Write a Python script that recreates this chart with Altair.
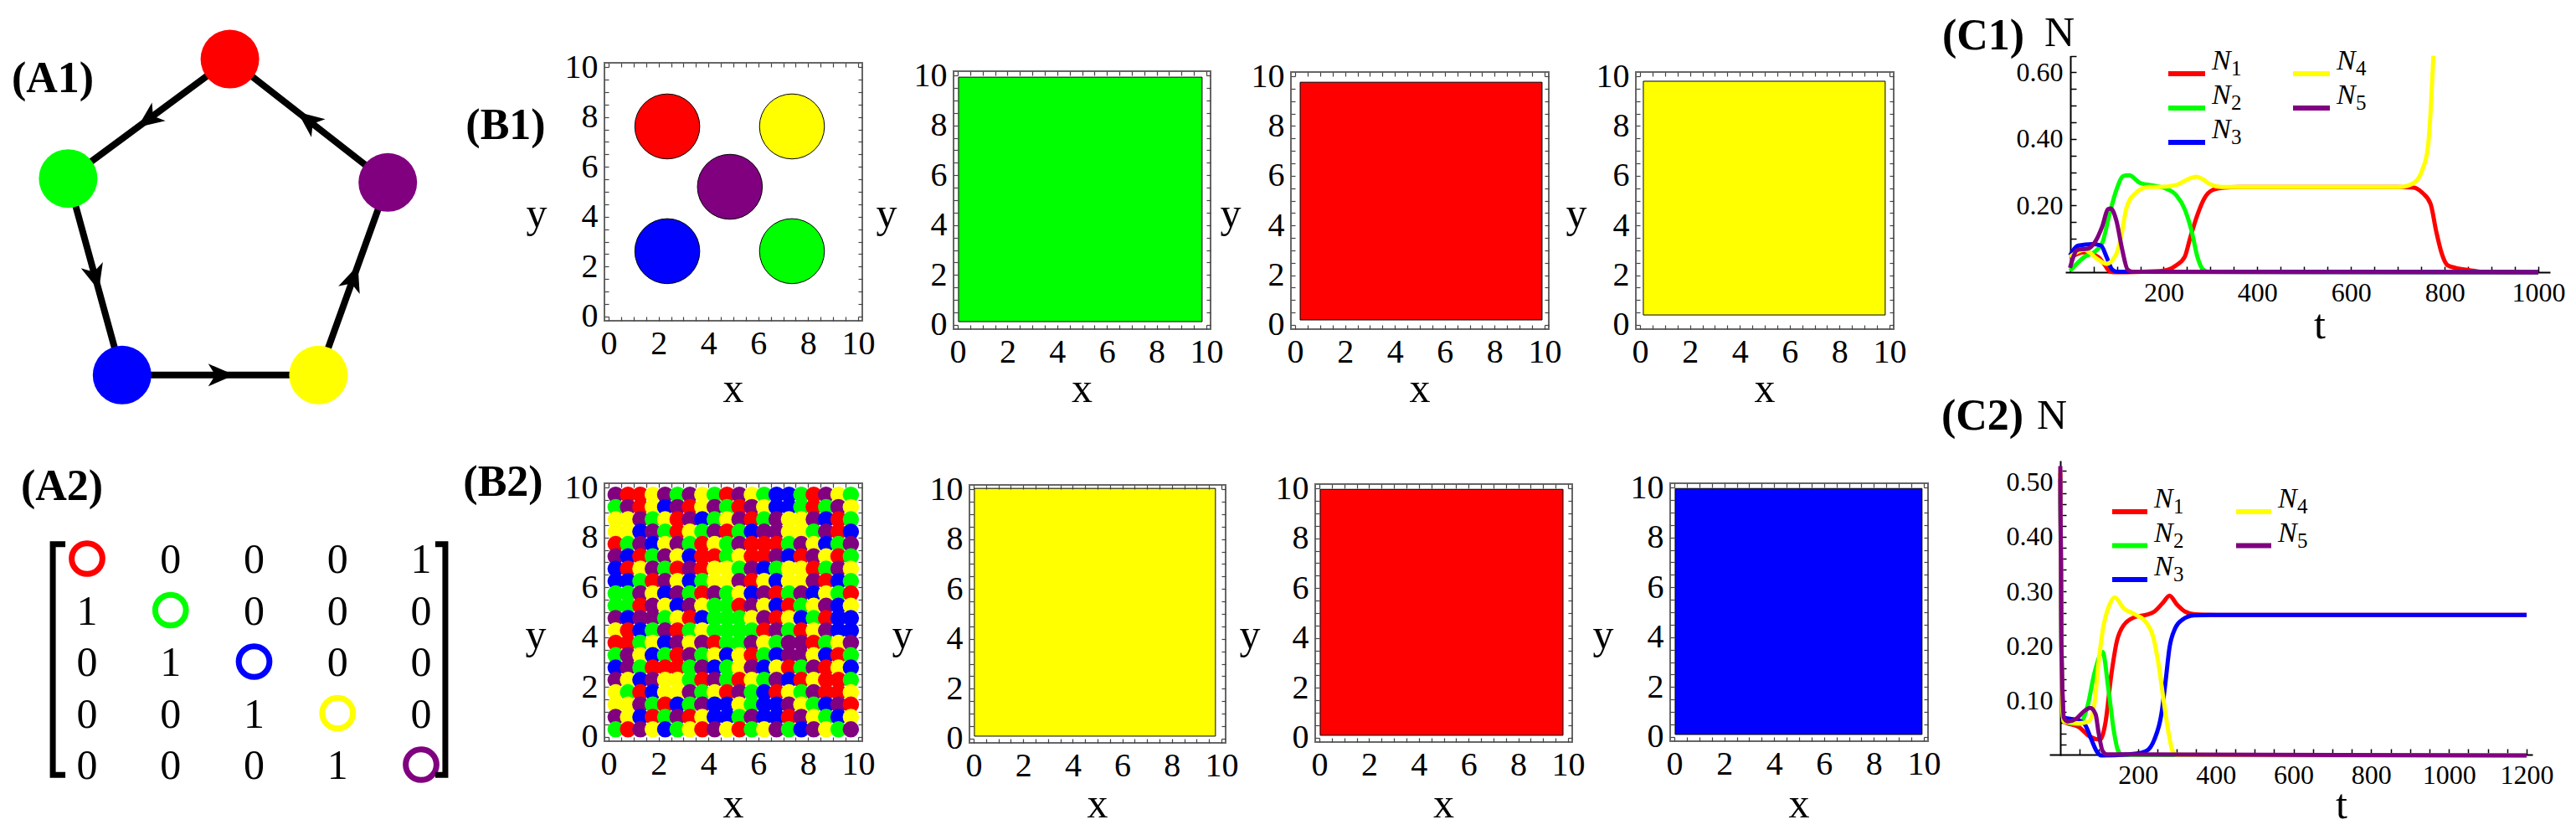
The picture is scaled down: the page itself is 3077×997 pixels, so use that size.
import math
import altair as alt
import pandas as pd

W, H, M = 3061, 981, 8          # plot size and page margin
SERIF = "'Liberation Serif', 'Times New Roman', 'DejaVu Serif', serif"

# ------------------------------------------------------------------ data
SPECIES = ["N", "N", "N", "N", "N"]
SUBS = ["1", "2", "3", "4", "5"]
COLORS = ["#ff0000", "#00ff00", "#0000ff", "#ffff00", "#800080"]

# A1: network nodes (arbitrary units) and directed edges
node_x = [5.1, 0.9, 2.3, 7.4, 9.2]
node_y = [8.9, 5.8, 0.7, 0.7, 5.7]
edge_src = [0, 1, 2, 3, 4]
edge_dst = [1, 2, 3, 4, 0]

# A2: adjacency matrix ("o" = coloured diagonal ring)
matrix_rows = ["o0001", "1o000", "01o00", "001o0", "0001o"]

# B1 initial condition: five circular patches
patch_x = [2.35, 7.35, 4.86, 2.35, 7.35]
patch_y = [7.62, 7.62, 5.20, 2.62, 2.62]
patch_species = [0, 3, 4, 2, 1]

# final states (species index) and their filled extents x0, x1, y0, y1
b1_final_species = [1, 0, 3]
b2_final_species = [3, 0, 2]
b1_final_extent = [[0.03, 9.83, 0.13, 9.93], [0.2, 9.9, 0.2, 9.76], [0.13, 9.83, 0.4, 9.8]]
b2_final_extent = [[0.03, 9.76, 0.1, 10.03], [0.03, 9.8, 0.1, 9.96], [0.03, 9.93, 0.1, 9.96]]

# B2 initial condition: coarse reading of the random pattern (top row first)
pattern_extent = [0.03, 9.96, 0.06, 9.96]
pattern_rows = [
    "PRRYPGPYGRPYGBBGRPYG",
    "GPRYBPRYPGRPYBBGRGPY",
    "YYPGYRPBGYPRGPYYPBRG",
    "YYBPGRYGPRGBPPYYGPRB",
    "RGPBYPGRYGPRRRGPYBGP",
    "PBRGPYBRRGYRRPBRPYRG",
    "BRYPGRPRYYGPBGYYRGPY",
    "BBGRPYBGYYPRYBYYPRBG",
    "GGPYBPGRPGYBPRGPBYGR",
    "GGRPYBPYGGRPYBRGYPBY",
    "PBPPGYRBGGGYPRYBGRBB",
    "YRBGPRGYGGGGRPGRYPBB",
    "RRGYBPYPRGGPYGPPRGYP",
    "GPYBGRPGYBYRGBPPYBRG",
    "BPGRRRGPBGYPBYRGPRYB",
    "PYBPYYGRPGRYGPBRYRRG",
    "YGRBYYPGYRPGBRYGPRRY",
    "YYPGRBGPBBYGBBPYGBPR",
    "PYBRGPRYBBGPBBRPYGBY",
    "GRPYBGYRPYRGYPGBPYGP",
]
LETTER = {"R": "#ff0000", "G": "#00ff00", "B": "#0000ff", "Y": "#ffff00", "P": "#800080"}

# C1 time series (t, N)
C1_N1 = [(0, 0.045), (30, 0.06), (60, 0.046), (75, 0.02), (85, 0.002), (100, 0), (190, 0.003), (210, 0.008),
         (227, 0.021), (245, 0.046), (257, 0.105), (272, 0.172), (287, 0.222), (305, 0.247), (329, 0.254),
         (360, 0.256), (700, 0.256), (734, 0.254), (752, 0.239), (770, 0.205), (782, 0.122), (794, 0.055),
         (806, 0.021), (823, 0.013), (853, 0.006), (880, 0.001), (1000, 0)]
C1_N2 = [(0, 0.004), (30, 0.045), (54, 0.063), (69, 0.088), (84, 0.172), (99, 0.247), (114, 0.289), (126, 0.291),
         (150, 0.268), (179, 0.26), (203, 0.252), (227, 0.231), (245, 0.189), (260, 0.122), (272, 0.046),
         (284, 0.008), (295, 0.001), (1000, 0)]
C1_N3 = [(0, 0.05), (18, 0.08), (48, 0.084), (66, 0.08), (78, 0.046), (90, 0.008), (100, 0.001), (1000, 0)]
C1_N4 = [(0, 0.046), (30, 0.067), (60, 0.038), (78, 0.025), (99, 0.055), (111, 0.12), (120, 0.19), (138, 0.235),
         (168, 0.256), (191, 0.256), (227, 0.262), (250, 0.278), (269, 0.287), (285, 0.278), (299, 0.264),
         (323, 0.256), (704, 0.256), (734, 0.268), (752, 0.306), (764, 0.373), (770, 0.482), (776, 0.65)]
C1_N5 = [(0, 0.013), (16, 0.067), (39, 0.071), (54, 0.092), (69, 0.138), (81, 0.189), (87, 0.191), (99, 0.155),
         (111, 0.071), (123, 0.008), (135, 0.001), (1000, 0)]

# C2 time series (t, N)
C2_N1 = [(0, 0.516), (3, 0.2), (6, 0.08), (9, 0.062), (48, 0.052), (77, 0.034), (102, 0.029), (116, 0.059),
         (131, 0.146), (145, 0.207), (163, 0.238), (192, 0.253), (221, 0.257), (242, 0.263), (264, 0.279),
         (281, 0.292), (300, 0.276), (321, 0.263), (346, 0.258), (400, 0.257), (1200, 0.257)]
C2_N2 = [(0, 0.478), (3, 0.2), (6, 0.08), (9, 0.062), (48, 0.057), (70, 0.09), (88, 0.151), (109, 0.189),
         (124, 0.12), (138, 0.044), (149, 0.008), (160, 0.001), (1200, 0)]
C2_N3 = [(0, 0.506), (3, 0.2), (6, 0.1), (9, 0.069), (48, 0.064), (63, 0.057), (80, 0.029), (95, 0.006),
         (105, 0), (192, 0.003), (221, 0.008), (242, 0.029), (260, 0.075), (271, 0.136), (281, 0.197),
         (296, 0.233), (314, 0.248), (343, 0.256), (386, 0.257), (1200, 0.257)]
C2_N4 = [(0, 0.521), (3, 0.2), (6, 0.08), (9, 0.062), (48, 0.059), (73, 0.062), (88, 0.095), (98, 0.166),
         (109, 0.228), (127, 0.276), (140, 0.289), (163, 0.269), (192, 0.258), (221, 0.243), (239, 0.217),
         (253, 0.166), (267, 0.095), (278, 0.044), (289, 0.008), (300, 0.001), (1200, 0)]
C2_N5 = [(0, 0.529), (3, 0.2), (6, 0.11), (9, 0.069), (19, 0.062), (41, 0.067), (63, 0.082), (77, 0.087),
         (91, 0.075), (98, 0.044), (109, 0.008), (120, 0.002), (1200, 0)]

# ------------------------------------------------------------------ layout (page pixels)
A1_X = (40, 500)      # x range for domain [0, 10]
A1_Y = (480, 20)      # y range (bottom, top) for domain [0, 10]
A2_X = (104, 503)     # columns 1..5
A2_Y = (667, 913)     # rows 1..5
B_BOX = [[(722, 1030, 75, 383), (1139, 1446, 85, 393), (1542, 1850, 86, 393), (1954, 2262, 86, 393)],
         [(722, 1030, 577, 885), (1158, 1464, 579, 887), (1571, 1878, 578, 886), (1995, 2303, 577, 885)]]
Y_GAP = [[81, 80, 72, 71], [82, 80, 78, 80]]
X_BASE = [480, 976]
Y_BASE = [271, 774]
SP = 0.17
# legend: (x of first swatch, y of first row, column step, row step, swatch length)
LEG = [(2590, 88, 149, 41, 44), (2523, 611, 148, 40.5, 42)]
LEG_SLOT = [(0, 0), (0, 1), (0, 2), (1, 0), (1, 1)]   # (column, row) of N1..N5

layers = []


def S(domain, lo, hi):
    return alt.Scale(domain=domain, range=[lo - M, hi - M], nice=False, zero=False)


pxs = alt.Scale(domain=[0, W], range=[0, W], nice=False, zero=False)
pys = alt.Scale(domain=[0, H], range=[0, H], nice=False, zero=False)

# ------------------------------------------------------------------ A1
xA, yA = S([0, 10], *A1_X), S([0, 10], *A1_Y)
edges = pd.DataFrame({
    "x": [node_x[s] for s in edge_src], "y": [node_y[s] for s in edge_src],
    "x2": [node_x[d] for d in edge_dst], "y2": [node_y[d] for d in edge_dst]})
edges["mx"] = (edges.x + edges.x2) / 2
edges["my"] = (edges.y + edges.y2) / 2
edges["ang"] = [math.degrees(math.atan2(r.x2 - r.x, r.y2 - r.y)) % 360 for r in edges.itertuples()]
layers.append(alt.Chart(edges).mark_rule(strokeWidth=8, color="black").encode(
    x=alt.X("x:Q", scale=xA, axis=None), y=alt.Y("y:Q", scale=yA, axis=None), x2="x2:Q", y2="y2:Q"))
ARROW = "M0,-1L0.8,0.85L0,0.35L-0.8,0.85Z"
layers.append(alt.Chart(edges).mark_point(shape=ARROW, filled=True, color="black", size=1150, opacity=1).encode(
    x=alt.X("mx:Q", scale=xA, axis=None), y=alt.Y("my:Q", scale=yA, axis=None),
    angle=alt.Angle("ang:Q", scale=None)))
nodes = pd.DataFrame({"x": node_x, "y": node_y, "c": COLORS})
layers.append(alt.Chart(nodes).mark_point(filled=True, size=4900, opacity=1).encode(
    x=alt.X("x:Q", scale=xA, axis=None), y=alt.Y("y:Q", scale=yA, axis=None),
    color=alt.Color("c:N", scale=None)))

# ------------------------------------------------------------------ A2
xM, yM = S([1, 5], *A2_X), S([1, 5], *A2_Y)
cells = [(r + 1, c + 1, ch) for r, row in enumerate(matrix_rows) for c, ch in enumerate(row)]
digits = pd.DataFrame([(r, c, ch) for r, c, ch in cells if ch != "o"], columns=["r", "c", "v"])
rings = pd.DataFrame([(r, c, COLORS[r - 1]) for r, c, ch in cells if ch == "o"], columns=["r", "c", "col"])
layers.append(alt.Chart(digits).mark_text(font=SERIF, fontSize=50, color="black", baseline="middle", dy=2).encode(
    x=alt.X("c:Q", scale=xM, axis=None), y=alt.Y("r:Q", scale=yM, axis=None), text="v:N"))
layers.append(alt.Chart(rings).mark_point(filled=False, size=1350, strokeWidth=7, opacity=1).encode(
    x=alt.X("c:Q", scale=xM, axis=None), y=alt.Y("r:Q", scale=yM, axis=None),
    color=alt.Color("col:N", scale=None)))
brackets = pd.DataFrame({
    "g": ["L"] * 4 + ["R"] * 4, "o": [0, 1, 2, 3] * 2,
    "bx": [0.74, 0.59, 0.59, 0.74, 5.17, 5.29, 5.29, 5.17],
    "by": [0.72, 0.72, 5.2, 5.2, 0.72, 0.72, 5.2, 5.2]})
layers.append(alt.Chart(brackets).mark_line(strokeWidth=7, color="black", strokeJoin="miter").encode(
    x=alt.X("bx:Q", scale=xM, axis=None), y=alt.Y("by:Q", scale=yM, axis=None),
    detail="g:N", order="o:Q"))

# ------------------------------------------------------------------ B panels
MAJOR = [0, 2, 4, 6, 8, 10]
MINOR = [i * 0.5 for i in range(21)]


def b_layers(box, content):
    L, R, T, B = box
    xs = alt.Scale(domain=[-SP, 10 + SP], range=[L - M, R - M], nice=False, zero=False)
    ys = alt.Scale(domain=[-SP, 10 + SP], range=[B - M, T - M], nice=False, zero=False)
    lab_x = alt.Axis(orient="bottom", offset=(B - M) - H, values=MAJOR, ticks=False, domain=False,
                     labelFontSize=40, labelPadding=7, title=None, grid=False, labelFlush=False,
                     labelOverlap=False)
    lab_y = alt.Axis(orient="left", offset=-(L - M), values=MAJOR, ticks=False, domain=False,
                     labelFontSize=40, labelPadding=8, title=None, grid=False, labelOverlap=False)
    out = [content(xs, ys, lab_x, lab_y)]
    frame = pd.DataFrame({"x0": [-SP], "x1": [10 + SP], "y0": [-SP], "y1": [10 + SP]})
    tk = dict(values=MINOR, labels=False, domain=False, tickSize=5, tickColor="#444", tickWidth=1.2,
              title=None, grid=False, zindex=1)
    out.append(alt.Chart(frame).mark_rect(fillOpacity=0, stroke="#666", strokeWidth=2).encode(
        x=alt.X("x0:Q", scale=xs, axis=alt.Axis(orient="top", offset=-(B - M), **tk)), x2="x1:Q",
        y=alt.Y("y0:Q", scale=ys, axis=alt.Axis(orient="right", offset=(L - M) - W, **tk)), y2="y1:Q"))
    out.append(alt.Chart(frame).mark_point(opacity=0).encode(
        x=alt.X("x0:Q", scale=xs, axis=alt.Axis(orient="bottom", offset=(T - M) - H, **tk)),
        y=alt.Y("y0:Q", scale=ys, axis=alt.Axis(orient="left", offset=-(R - M), **tk))))
    return out


def patches_content(xs, ys, ax, ay):
    df = pd.DataFrame({"x": patch_x, "y": patch_y, "c": [COLORS[i] for i in patch_species]})
    return alt.Chart(df).mark_point(filled=True, size=6020, stroke="black", strokeWidth=1, opacity=1).encode(
        x=alt.X("x:Q", scale=xs, axis=ax), y=alt.Y("y:Q", scale=ys, axis=ay),
        color=alt.Color("c:N", scale=None))


def pattern_content(xs, ys, ax, ay):
    x0, x1, y0, y1 = pattern_extent
    n = len(pattern_rows)
    dx, dy = (x1 - x0) / 20, (y1 - y0) / n
    recs = []
    for j, row in enumerate(pattern_rows):
        for i, ch in enumerate(row[:20]):
            recs.append({"cx": x0 + (i + 0.5) * dx, "cy": y1 - (j + 0.5) * dy, "col": LETTER[ch]})
    df = pd.DataFrame(recs)
    return alt.Chart(df).mark_point(filled=True, shape="circle", size=380, opacity=1).encode(
        x=alt.X("cx:Q", scale=xs, axis=ax), y=alt.Y("cy:Q", scale=ys, axis=ay),
        color=alt.Color("col:N", scale=None))


def fill_content(sp, ext):
    def f(xs, ys, ax, ay):
        df = pd.DataFrame({"x0": [ext[0]], "x1": [ext[1]], "y0": [ext[2]], "y1": [ext[3]], "c": [COLORS[sp]]})
        return alt.Chart(df).mark_rect(stroke="black", strokeWidth=1).encode(
            x=alt.X("x0:Q", scale=xs, axis=ax), x2="x1:Q", y=alt.Y("y0:Q", scale=ys, axis=ay), y2="y1:Q",
            color=alt.Color("c:N", scale=None))
    return f


layers += b_layers(B_BOX[0][0], patches_content)
for k in range(3):
    layers += b_layers(B_BOX[0][k + 1], fill_content(b1_final_species[k], b1_final_extent[k]))
layers += b_layers(B_BOX[1][0], pattern_content)
for k in range(3):
    layers += b_layers(B_BOX[1][k + 1], fill_content(b2_final_species[k], b2_final_extent[k]))

# ------------------------------------------------------------------ C panels


def series_df(series):
    rows = []
    for k, pts in enumerate(series):
        rows += [{"t": t, "N": v, "k": k, "c": COLORS[k]} for t, v in pts]
    return pd.DataFrame(rows)


def c_layers(series, xdom, xr, ydom, yr, yaxis_x, xaxis_y, xlabels, ylabels, xminor, yminor, leg):
    xs = S(xdom, *xr)
    ys = S(ydom, *yr)
    ax = alt.Axis(orient="bottom", offset=(xaxis_y - M) - H, values=xlabels, format="d", ticks=False,
                  domain=True, domainColor="black", domainWidth=2, labelFontSize=32, labelPadding=9,
                  title=None, grid=False, labelFlush=False, labelOverlap=False)
    ay = alt.Axis(orient="left", offset=-(yaxis_x - M), values=ylabels, format=".2f", ticks=False,
                  domain=True, domainColor="black", domainWidth=2, labelFontSize=32, labelPadding=9,
                  title=None, grid=False, labelOverlap=False)
    lines = alt.Chart(series_df(series)).mark_line(strokeWidth=5, interpolate="monotone").encode(
        x=alt.X("t:Q", scale=xs, axis=ax), y=alt.Y("N:Q", scale=ys, axis=ay),
        color=alt.Color("c:N", scale=None), detail="k:N")
    tk = dict(labels=False, domain=False, tickSize=7, tickColor="black", tickWidth=1.5, title=None, grid=False)
    ticks = alt.Chart(pd.DataFrame({"t": [0], "N": [0]})).mark_point(opacity=0).encode(
        x=alt.X("t:Q", scale=xs, axis=alt.Axis(orient="top", offset=-(xaxis_y - M), values=xminor, **tk)),
        y=alt.Y("N:Q", scale=ys, axis=alt.Axis(orient="right", offset=(yaxis_x - M) - W, values=yminor, **tk)))
    # legend (swatch + italic N + subscript), laid out in page pixels
    lx, ly, cstep, rstep, slen = leg
    recs = []
    for k, (col, row) in enumerate(LEG_SLOT):
        x0 = lx + col * cstep
        y0 = ly + row * rstep
        recs.append({"x0": x0 - M, "x1": x0 + slen - M, "y": y0 - M, "c": COLORS[k],
                     "tx": x0 + slen + 8 - M, "ty": y0 - 5 - M, "sx": x0 + slen + 31 - M, "sy": y0 + 2 - M,
                     "n": SPECIES[k], "s": SUBS[k]})
    ldf = pd.DataFrame(recs)
    sw = alt.Chart(ldf).mark_rule(strokeWidth=6).encode(
        x=alt.X("x0:Q", scale=pxs, axis=None), x2="x1:Q", y=alt.Y("y:Q", scale=pys, axis=None),
        color=alt.Color("c:N", scale=None))
    tn = alt.Chart(ldf).mark_text(font=SERIF, fontSize=34, fontStyle="italic", align="left",
                                  baseline="alphabetic", color="black").encode(
        x=alt.X("tx:Q", scale=pxs, axis=None), y=alt.Y("ty:Q", scale=pys, axis=None), text="n:N")
    ts = alt.Chart(ldf).mark_text(font=SERIF, fontSize=25, align="left",
                                  baseline="alphabetic", color="black").encode(
        x=alt.X("sx:Q", scale=pxs, axis=None), y=alt.Y("sy:Q", scale=pys, axis=None), text="s:N")
    return [lines, ticks, sw, tn, ts]


layers += c_layers([C1_N1, C1_N2, C1_N3, C1_N4, C1_N5], [-10, 1025], (2467, 3046), [0, 0.65], (325, 66.6),
                   2473, 325, [200, 400, 600, 800, 1000], [0.2, 0.4, 0.6],
                   list(range(50, 1001, 50)), [round(0.05 * i, 2) for i in range(1, 14)], LEG[0])
layers += c_layers([C2_N1, C2_N2, C2_N3, C2_N4, C2_N5], [-28, 1215], (2448, 3025), [0, 0.539], (902, 550),
                   2461, 901, [200, 400, 600, 800, 1000, 1200], [0.1, 0.2, 0.3, 0.4, 0.5],
                   list(range(50, 1201, 50)), [round(0.02 * i, 2) for i in range(1, 27)], LEG[1])

# ------------------------------------------------------------------ text annotations
bold = pd.DataFrame({"text": ["(A1)", "(A2)", "(B1)", "(B2)", "(C1)", "(C2)"],
                     "px": [63, 74, 604, 601, 2369, 2368], "py": [94, 581, 150, 576, 43, 497]})
reg = []
for r in range(2):
    for k in range(4):
        L, R, T, B = B_BOX[r][k]
        reg.append({"text": "x", "px": (L + R) / 2, "py": X_BASE[r]})
        reg.append({"text": "y", "px": L - Y_GAP[r][k], "py": Y_BASE[r]})
reg += [{"text": "N", "px": 2460, "py": 55}, {"text": "N", "px": 2451, "py": 512},
        {"text": "t", "px": 2771, "py": 404}, {"text": "t", "px": 2797, "py": 977}]
reg = pd.DataFrame(reg)
for df in (bold, reg):
    df["px"] = df["px"] - M
    df["py"] = df["py"] - M
layers.append(alt.Chart(bold).mark_text(font=SERIF, fontSize=52, fontWeight="bold", color="black",
                                        baseline="middle", align="center").encode(
    x=alt.X("px:Q", scale=pxs, axis=None), y=alt.Y("py:Q", scale=pys, axis=None), text="text:N"))
layers.append(alt.Chart(reg).mark_text(font=SERIF, fontSize=50, color="black",
                                       baseline="alphabetic", align="center").encode(
    x=alt.X("px:Q", scale=pxs, axis=None), y=alt.Y("py:Q", scale=pys, axis=None), text="text:N"))

chart = alt.layer(*layers).resolve_scale(
    x="independent", y="independent", color="independent", angle="independent"
).properties(
    width=W, height=H, padding=0, autosize=alt.AutoSizeParams(type="none")
).configure_view(stroke=None).configure_axis(
    labelFont=SERIF, labelColor="black", grid=False
)

chart.save("out.html", embed_options={"renderer": "svg", "actions": False})
